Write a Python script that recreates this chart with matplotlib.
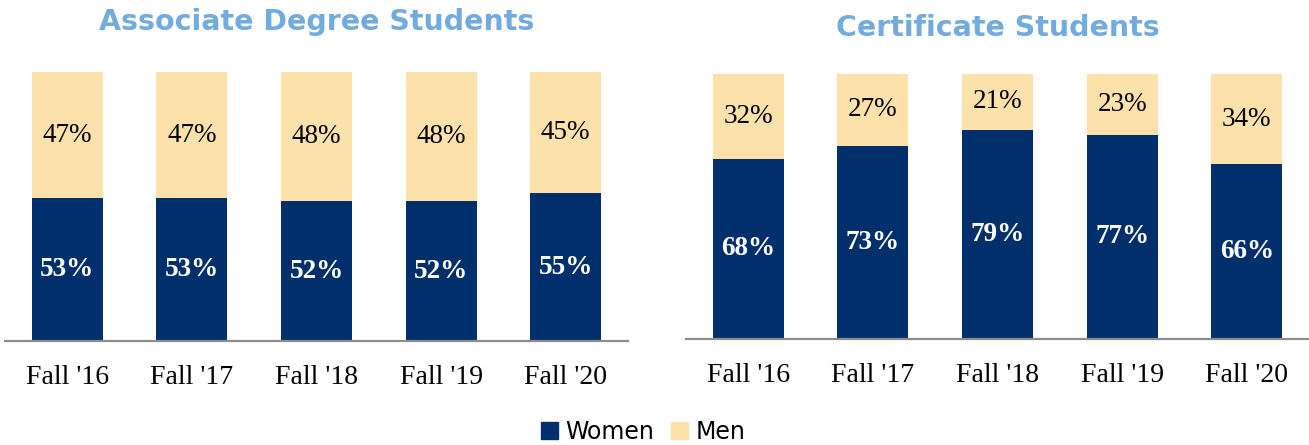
import matplotlib

matplotlib.use("Agg")

import matplotlib.pyplot as plt
import numpy as np
from matplotlib.patches import Patch

terms = ["Fall '16", "Fall '17", "Fall '18", "Fall '19", "Fall '20"]
assoc_women = [53, 53, 52, 52, 55]
assoc_men = [47, 47, 48, 48, 45]
cert_women = [68, 73, 79, 77, 66]
cert_men = [32, 27, 21, 23, 34]

NAVY = "#002F6C"
WHEAT = "#FCE1AA"
TITLE_BLUE = "#72ABDD"
SERIF = "Liberation Serif"


def draw_panel(ax, women, men):
    x = np.arange(len(terms))
    ax.bar(x, women, width=0.57, color=NAVY)
    ax.bar(x, men, width=0.57, bottom=women, color=WHEAT)
    for xi, w, m in zip(x, women, men):
        ax.text(xi, w / 2, f"{w}%", ha="center", va="center", color="white",
                fontsize=19.5, fontweight="bold", family=SERIF)
        ax.text(xi, w + m / 2, f"{m}%", ha="center", va="center", color="black",
                fontsize=19.5, family=SERIF)
    ax.set_xlim(-0.5, 4.5)
    ax.set_ylim(0, 100)
    ax.set_xticks(x, terms, fontsize=20, family=SERIF)
    ax.tick_params(axis="x", length=0, pad=17)
    ax.set_yticks([])
    for side in ["left", "right", "top"]:
        ax.spines[side].set_visible(False)
    ax.spines["bottom"].set_color("#8C8C8C")
    ax.spines["bottom"].set_linewidth(1.6)


W, H = 1309, 445
fig = plt.figure(figsize=(W / 100, H / 100), dpi=100)

ax1 = fig.add_axes([5 / W, (H - 341) / H, 623 / W, (341 - 72) / H])
ax2 = fig.add_axes([686 / W, (H - 339) / H, 623 / W, (339 - 74) / H])
draw_panel(ax1, assoc_women, assoc_men)
draw_panel(ax2, cert_women, cert_men)

fig.text(317 / W, 1 - 22 / H, "Associate Degree Students", ha="center", va="center",
         fontsize=20.5, fontweight="bold", color=TITLE_BLUE)
fig.text(998 / W, 1 - 28 / H, "Certificate Students", ha="center", va="center",
         fontsize=20.5, fontweight="bold", color=TITLE_BLUE)

handles = [Patch(color=NAVY, label="Women"), Patch(color=WHEAT, label="Men")]
fig.legend(handles=handles, loc="center", bbox_to_anchor=(643 / W, 1 - 432 / H),
           ncol=2, frameon=False, fontsize=17, handlelength=0.75, handleheight=0.75,
           handletextpad=0.3, columnspacing=0.7, borderpad=0)

fig.savefig("out.png", dpi=100)
